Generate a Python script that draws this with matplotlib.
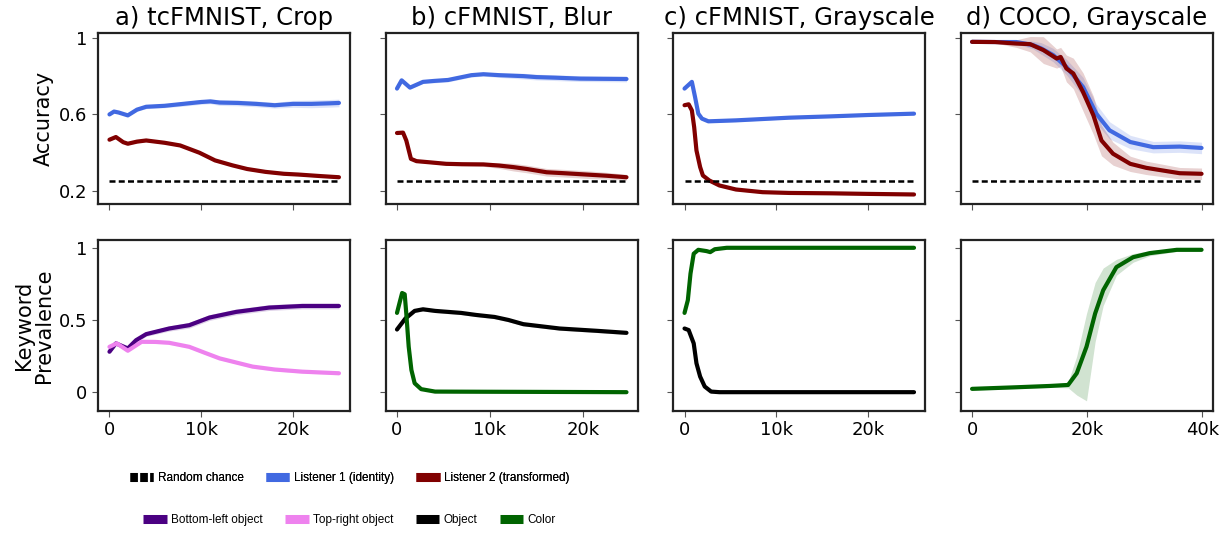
"""Listener accuracy and keyword prevalence over training steps, four settings."""
import matplotlib
matplotlib.use("Agg")
import matplotlib.pyplot as plt
import numpy as np
from matplotlib.lines import Line2D

# --------------------------------------------------------------------------- #
# data (x in thousands of steps)
# --------------------------------------------------------------------------- #
TITLES = ["a) tcFMNIST, Crop", "b) cFMNIST, Blur", "c) cFMNIST, Grayscale", "d) COCO, Grayscale"]
CHANCE = 0.25

# row 1 - accuracy
a_l1_x = [0, 0.5, 1, 2, 3, 4, 6, 8, 10, 11, 12, 14, 16, 18, 20, 22, 24, 25]
a_l1 = [0.60, 0.615, 0.61, 0.595, 0.625, 0.64, 0.645, 0.655, 0.665, 0.668, 0.662, 0.66, 0.655, 0.648, 0.655, 0.655, 0.658, 0.66]
a_l1_sd = [0.005, 0.005, 0.005, 0.005, 0.008, 0.01, 0.01, 0.012, 0.012, 0.012, 0.015, 0.015, 0.015, 0.015, 0.018, 0.02, 0.02, 0.02]
a_l2_x = [0, 0.7, 1.5, 2, 3, 4, 6, 7.7, 9.8, 11.5, 13.4, 15, 17, 19, 20.6, 23, 25]
a_l2 = [0.468, 0.482, 0.455, 0.447, 0.458, 0.464, 0.452, 0.438, 0.400, 0.36, 0.334, 0.315, 0.30, 0.29, 0.286, 0.278, 0.272]
a_l2_sd = [0.006] * 17

b_l1_x = [0, 0.5, 1.4, 2.8, 4, 5.5, 6.8, 8, 9.3, 11, 13.6, 15, 17, 19.7, 22, 24.7]
b_l1 = [0.735, 0.778, 0.74, 0.77, 0.775, 0.78, 0.793, 0.805, 0.81, 0.805, 0.8, 0.795, 0.792, 0.787, 0.786, 0.785]
b_l1_sd = [0.008, 0.008, 0.008, 0.008, 0.01, 0.01, 0.01, 0.01, 0.01, 0.012, 0.015, 0.015, 0.015, 0.015, 0.015, 0.015]
b_l2_x = [0, 0.65, 1, 1.5, 2.1, 3.5, 5.3, 7, 9.3, 11, 12.5, 14, 16.1, 18, 20.4, 22.5, 24.7]
b_l2 = [0.503, 0.505, 0.464, 0.368, 0.356, 0.35, 0.342, 0.34, 0.339, 0.333, 0.325, 0.315, 0.298, 0.293, 0.286, 0.28, 0.272]
b_l2_sd = [0.006, 0.006, 0.006, 0.006, 0.006, 0.006, 0.008, 0.008, 0.01, 0.015, 0.02, 0.02, 0.02, 0.02, 0.02, 0.018, 0.015]

c_l1_x = [0, 0.8, 1.15, 1.5, 1.9, 2.6, 5.6, 11.4, 16, 20, 25]
c_l1 = [0.735, 0.77, 0.69, 0.604, 0.578, 0.564, 0.569, 0.583, 0.59, 0.597, 0.604]
c_l1_sd = [0.006] * 11
c_l2_x = [0, 0.45, 0.8, 1.05, 1.3, 1.7, 2.0, 2.7, 3.8, 5.6, 8.5, 11.4, 16, 20, 25]
c_l2 = [0.648, 0.653, 0.621, 0.534, 0.412, 0.325, 0.281, 0.255, 0.229, 0.208, 0.194, 0.19, 0.188, 0.185, 0.182]
c_l2_sd = [0.006] * 15

d_l1_x = [0, 4, 7.7, 10.6, 12, 14.1, 16.4, 19.3, 21.6, 23.9, 27.5, 31.5, 36.1, 39.9]
d_l1 = [0.979, 0.978, 0.978, 0.962, 0.945, 0.91, 0.848, 0.743, 0.604, 0.517, 0.456, 0.429, 0.432, 0.425]
d_l1_sd = [0.005, 0.005, 0.01, 0.02, 0.03, 0.035, 0.04, 0.05, 0.05, 0.045, 0.035, 0.03, 0.03, 0.03]
d_l2_x = [0, 4, 7.7, 10.1, 12.4, 14.7, 15.4, 16.4, 17.6, 19.3, 21.1, 22.5, 24.5, 27.5, 30.3, 36.1, 39.9]
d_l2 = [0.979, 0.978, 0.97, 0.967, 0.936, 0.892, 0.9, 0.84, 0.814, 0.717, 0.595, 0.464, 0.395, 0.342, 0.321, 0.293, 0.29]
d_l2_sd = [0.005, 0.005, 0.02, 0.04, 0.07, 0.05, 0.05, 0.07, 0.08, 0.1, 0.1, 0.08, 0.06, 0.04, 0.035, 0.03, 0.03]

# row 2 - keyword prevalence
a_bl_x = [0, 0.7, 2, 2.9, 4, 6.5, 8.7, 10.9, 13.8, 17.4, 21, 25]
a_bl = [0.28, 0.338, 0.303, 0.36, 0.402, 0.441, 0.464, 0.517, 0.556, 0.586, 0.597, 0.597]
a_bl_sd = [0.01, 0.01, 0.01, 0.015, 0.015, 0.018, 0.02, 0.02, 0.02, 0.02, 0.02, 0.02]
a_tr_x = [0, 0.8, 2, 3.5, 5, 6.5, 8.7, 10.5, 12, 15.6, 18, 21, 25]
a_tr = [0.314, 0.338, 0.287, 0.349, 0.348, 0.342, 0.314, 0.27, 0.234, 0.177, 0.157, 0.142, 0.131]
a_tr_sd = [0.01] * 13

b_obj_x = [0, 0.9, 1.9, 2.8, 4.1, 6.9, 8.5, 10.5, 12, 13.6, 17.5, 21.5, 24.7]
b_obj = [0.434, 0.51, 0.563, 0.574, 0.563, 0.549, 0.535, 0.521, 0.5, 0.471, 0.441, 0.425, 0.411]
b_obj_sd = [0.012] * 13
b_col_x = [0, 0.3, 0.55, 0.83, 1.0, 1.26, 1.55, 1.9, 2.6, 4.1, 9, 15, 24.7]
b_col = [0.549, 0.625, 0.687, 0.678, 0.545, 0.315, 0.154, 0.062, 0.021, 0.004, 0.003, 0.002, 0.0]
b_col_sd = [0.005] * 13

c_col_x = [0, 0.36, 0.65, 1.0, 1.5, 2.4, 2.8, 3.3, 4.6, 10, 25]
c_col = [0.549, 0.637, 0.821, 0.959, 0.986, 0.977, 0.97, 0.99, 1.0, 1.0, 1.0]
c_col_sd = [0.005] * 11
c_obj_x = [0, 0.45, 1.0, 1.3, 1.7, 2.2, 2.9, 3.8, 10, 25]
c_obj = [0.441, 0.43, 0.338, 0.2, 0.108, 0.039, 0.004, 0.0, 0.0, 0.0]
c_obj_sd = [0.005] * 10

d_col_x = [0, 7.7, 13.5, 16.7, 18.2, 19.9, 21.4, 22.8, 25.1, 28, 30.9, 35.6, 39.9]
d_col = [0.023, 0.034, 0.043, 0.05, 0.131, 0.315, 0.545, 0.706, 0.866, 0.935, 0.963, 0.986, 0.986]
d_col_lo = [0.015, 0.025, 0.033, 0.03, -0.02, -0.06, 0.35, 0.6, 0.81, 0.9, 0.945, 0.975, 0.977]
d_col_hi = [0.03, 0.042, 0.052, 0.07, 0.25, 0.545, 0.76, 0.86, 0.92, 0.96, 0.98, 0.995, 0.995]

BLUE, RED = "#4169E1", "#800000"
PURPLE, PINK, BLACK, GREEN = "#4B0082", "#EE82EE", "#000000", "#006400"


def band(y, sd):
    y, sd = np.asarray(y), np.asarray(sd)
    return y - sd, y + sd


ACC = [
    [(a_l1_x, a_l1, band(a_l1, a_l1_sd), BLUE), (a_l2_x, a_l2, band(a_l2, a_l2_sd), RED)],
    [(b_l1_x, b_l1, band(b_l1, b_l1_sd), BLUE), (b_l2_x, b_l2, band(b_l2, b_l2_sd), RED)],
    [(c_l1_x, c_l1, band(c_l1, c_l1_sd), BLUE), (c_l2_x, c_l2, band(c_l2, c_l2_sd), RED)],
    [(d_l1_x, d_l1, band(d_l1, d_l1_sd), BLUE), (d_l2_x, d_l2, band(d_l2, d_l2_sd), RED)],
]
KW = [
    [(a_bl_x, a_bl, band(a_bl, a_bl_sd), PURPLE), (a_tr_x, a_tr, band(a_tr, a_tr_sd), PINK)],
    [(b_obj_x, b_obj, band(b_obj, b_obj_sd), BLACK), (b_col_x, b_col, band(b_col, b_col_sd), GREEN)],
    [(c_col_x, c_col, band(c_col, c_col_sd), GREEN), (c_obj_x, c_obj, band(c_obj, c_obj_sd), BLACK)],
    [(d_col_x, d_col, (d_col_lo, d_col_hi), GREEN)],
]


def draw(ax, x, y, lohi, color):
    x = np.asarray(x) * 1000
    lo, hi = lohi
    ax.fill_between(x, lo, hi, color=color, alpha=0.18, lw=0)
    ax.plot(x, y, color=color, lw=3, solid_capstyle="round", solid_joinstyle="round")


def kfmt(v, _):
    return "0" if v == 0 else f"{int(v / 1000)}k"


def main() -> None:
    plt.rcParams["font.family"] = "DejaVu Sans"
    fig, axes = plt.subplots(2, 4, figsize=(12.31, 5.33), dpi=100, sharex="col", sharey="row")
    fig.subplots_adjust(left=0.0796, right=0.9854, top=0.938, bottom=0.229, wspace=0.139, hspace=0.205)

    for j in range(4):
        top, bot = axes[0, j], axes[1, j]
        for x, y, lohi, c in ACC[j]:
            draw(top, x, y, lohi, c)
        xend = ACC[j][0][0][-1] * 1000
        top.plot([0, xend], [CHANCE, CHANCE], color="black", lw=1.8, dashes=(2.4, 1.3))
        for x, y, lohi, c in KW[j]:
            draw(bot, x, y, lohi, c)
        top.set_title(TITLES[j], fontsize=17.5, pad=6)
        ticks = [0, 20000, 40000] if j == 3 else [0, 10000, 20000]
        bot.set_xticks(ticks)
        bot.xaxis.set_major_formatter(plt.FuncFormatter(kfmt))

    axes[0, 0].set_ylim(0.13, 1.025)
    axes[0, 0].set_yticks([0.2, 0.6, 1.0])
    axes[0, 0].set_yticklabels(["0.2", "0.6", "1"])
    axes[1, 0].set_ylim(-0.13, 1.057)
    axes[1, 0].set_yticks([0, 0.5, 1.0])
    axes[1, 0].set_yticklabels(["0", "0.5", "1"])
    axes[0, 0].set_ylabel("Accuracy", fontsize=15)
    axes[1, 0].set_ylabel("Keyword\nPrevalence", fontsize=15, linespacing=1.0)

    for ax in axes.flat:
        for s in ax.spines.values():
            s.set_linewidth(1.6)
            s.set_color("#222222")
        ax.tick_params(labelsize=13, length=4, width=0.8, color="#555555")

    # legends
    lfont = dict(family="Liberation Sans", size=8.5)
    kw = dict(lw=6.5, solid_capstyle="butt", dash_capstyle="butt")
    h1 = [Line2D([], [], color="black", dashes=(0.8, 0.3), **kw),
          Line2D([], [], color=BLUE, **kw),
          Line2D([], [], color=RED, **kw)]
    l1 = ["Random chance", "Listener 1 (identity)", "Listener 2 (transformed)"]
    h2 = [Line2D([], [], color=c, **kw) for c in (PURPLE, PINK, BLACK, GREEN)]
    l2 = ["Bottom-left object", "Top-right object", "Object", "Color"]
    leg1 = fig.legend(h1, l1, loc="center", bbox_to_anchor=(0.284, 0.103), ncol=3, frameon=False,
                      prop=lfont, handlelength=2.0, handletextpad=0.35, columnspacing=1.9)
    fig.add_artist(leg1)
    fig.legend(h2, l2, loc="center", bbox_to_anchor=(0.284, 0.024), ncol=4, frameon=False,
               prop=lfont, handlelength=2.0, handletextpad=0.35, columnspacing=1.9)

    fig.savefig("out.png", dpi=100)
    plt.close(fig)


if __name__ == "__main__":
    main()
